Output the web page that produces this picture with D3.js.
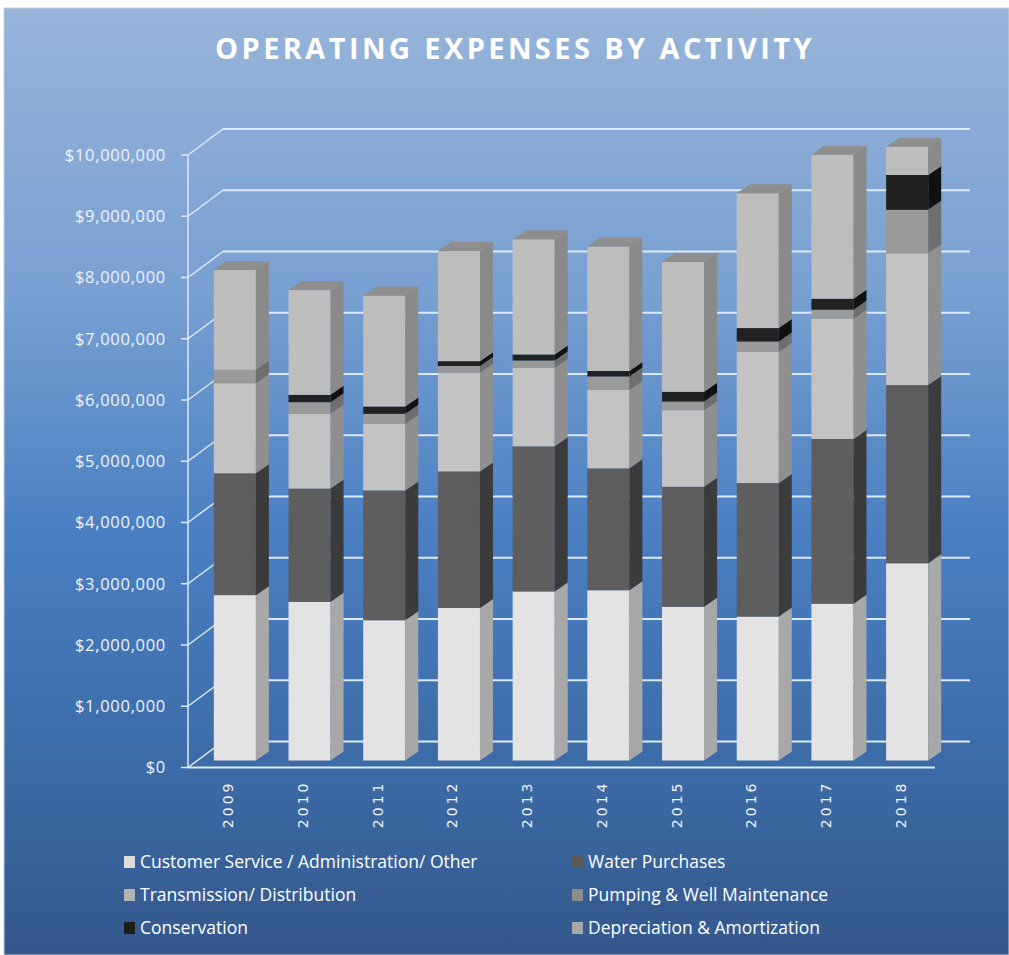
<!DOCTYPE html>
<html>
<head>
<meta charset="utf-8">
<script src="https://cdn.jsdelivr.net/npm/d3@7"></script>
<style>
    body { margin: 0; background: #ffffff; }
    #chart { width: 1009px; height: 955px; }
    .tick-label { fill: #eef3fa; font-family: "Open Sans", sans-serif; font-size: 16.5px; letter-spacing: 0.7px; }
    .x-label { fill: #eef3fa; font-family: "DejaVu Sans", sans-serif; font-size: 14px; letter-spacing: 3px; }
    .legendText { fill: #ffffff; font-family: "Open Sans", sans-serif; font-size: 17.5px; }
</style>
</head>
<body>
<div id="chart"></div>
<script>
// data (dollars)
const years = ["2009", "2010", "2011", "2012", "2013", "2014", "2015", "2016", "2017", "2018"];
const customerService = [2700000, 2590000, 2290000, 2490000, 2760000, 2780000, 2510000, 2350000, 2560000, 3220000];
const waterPurchases  = [1990000, 1850000, 2120000, 2230000, 2370000, 1990000, 1960000, 2180000, 2690000, 2910000];
const transmission    = [1470000, 1220000, 1090000, 1610000, 1280000, 1280000, 1250000, 2140000, 1960000, 2150000];
const pumping         = [220000, 190000, 160000, 110000, 120000, 220000, 140000, 170000, 150000, 710000];
const conservation    = [0, 120000, 120000, 80000, 100000, 90000, 160000, 220000, 180000, 570000];
const depreciation    = [1630000, 1710000, 1810000, 1800000, 1880000, 2030000, 2120000, 2200000, 2350000, 460000];
const yTicks = [0, 1000000, 2000000, 3000000, 4000000, 5000000, 6000000, 7000000, 8000000, 9000000, 10000000];

const seriesKeys = ["Customer Service / Administration/ Other", "Water Purchases", "Transmission/ Distribution",
    "Pumping & Well Maintenance", "Conservation", "Depreciation & Amortization"];
const seriesValues = [customerService, waterPurchases, transmission, pumping, conservation, depreciation];

// front, side colours for each series
const faceColours = ["#e3e3e3", "#5e5e5e", "#c3c3c3", "#9a9a9a", "#222222", "#bdbdbd"];
const sideColours = ["#a8a8a8", "#3b3b3b", "#8f8f8f", "#6e6e6e", "#111111", "#8a8a8a"];
const legendColours = ["#dcdcdc", "#5a5a5a", "#b3b3b3", "#8c8c8c", "#1c1c1c", "#a8a8a8"];

class StackedBar3D {

    constructor(_element, _title) {
        this.element = _element;
        this.title = _title;
        this.init();
    }

    init() {
        let dv = this;

        dv.W = 1009;
        dv.H = 955;

        const svg = d3.select(dv.element)
            .append("svg")
            .attr("width", dv.W)
            .attr("height", dv.H);

        // background gradient
        const grad = svg.append("defs").append("linearGradient")
            .attr("id", "bg")
            .attr("x1", 0).attr("y1", 0).attr("x2", 0).attr("y2", 1);
        grad.append("stop").attr("offset", "0%").attr("stop-color", "#97b4d9");
        grad.append("stop").attr("offset", "30%").attr("stop-color", "#78a0d2");
        grad.append("stop").attr("offset", "55%").attr("stop-color", "#4a80c3");
        grad.append("stop").attr("offset", "80%").attr("stop-color", "#3c6ba7");
        grad.append("stop").attr("offset", "100%").attr("stop-color", "#33588c");

        svg.append("rect")
            .attr("x", 4).attr("y", 8)
            .attr("width", dv.W - 4).attr("height", dv.H - 8)
            .attr("fill", "url(#bg)")
            .attr("stroke", "#c9cfd8")
            .attr("stroke-width", 1);

        svg.append("text")
            .attr("x", 515)
            .attr("y", 59)
            .attr("text-anchor", "middle")
            .attr("fill", "#ffffff")
            .style("font-family", "Open Sans, sans-serif")
            .style("font-weight", "bold")
            .style("font-size", "29px")
            .style("letter-spacing", "3.4px")
            .text(dv.title);

        dv.g = svg.append("g");

        // plot geometry
        dv.left = 188;
        dv.right = 935;
        dv.depth = { dx: 35, dy: -26 };   // wall depth
        dv.barOff = { dx: 9.5, dy: -7 };  // front of the bars
        dv.barDepth = { dx: 13, dy: -9 }; // bar thickness

        dv.x = d3.scaleBand()
            .domain(years)
            .range([dv.left, dv.right])
            .paddingInner(0.437)
            .paddingOuter(0.2185);

        dv.y = d3.scaleLinear()
            .domain([0, 10000000])
            .range([767.5, 155]);

        dv.data = years.map((yr, i) => {
            let row = { year: yr };
            seriesKeys.forEach((k, j) => { row[k] = seriesValues[j][i]; });
            return row;
        });

        dv.drawWalls();
        dv.update();
        dv.addLegend();
    }

    drawWalls() {
        let dv = this;
        const gridColour = "#dde9f7";
        const walls = dv.g.append("g").attr("class", "walls");

        // back wall gridlines
        walls.selectAll(".grid")
            .data(yTicks)
            .enter().append("line")
            .attr("class", "grid")
            .attr("x1", dv.left + dv.depth.dx)
            .attr("x2", dv.right + dv.depth.dx)
            .attr("y1", d => dv.y(d) + dv.depth.dy)
            .attr("y2", d => dv.y(d) + dv.depth.dy)
            .attr("stroke", gridColour)
            .attr("stroke-width", 2);

        // side wall diagonals
        walls.selectAll(".diag")
            .data(yTicks)
            .enter().append("line")
            .attr("class", "diag")
            .attr("x1", dv.left)
            .attr("x2", dv.left + dv.depth.dx)
            .attr("y1", d => dv.y(d))
            .attr("y2", d => dv.y(d) + dv.depth.dy)
            .attr("stroke", gridColour)
            .attr("stroke-width", 1.5);

        // vertical axis line and ticks
        walls.append("line")
            .attr("x1", dv.left).attr("x2", dv.left)
            .attr("y1", dv.y(10000000)).attr("y2", dv.y(0))
            .attr("stroke", gridColour)
            .attr("stroke-width", 1.5);

        walls.selectAll(".ytick")
            .data(yTicks)
            .enter().append("line")
            .attr("x1", dv.left - 7).attr("x2", dv.left)
            .attr("y1", d => dv.y(d)).attr("y2", d => dv.y(d))
            .attr("stroke", gridColour)
            .attr("stroke-width", 1.5);

        walls.selectAll(".tick-label")
            .data(yTicks)
            .enter().append("text")
            .attr("class", "tick-label")
            .attr("x", dv.left - 22)
            .attr("y", d => dv.y(d))
            .attr("dy", "0.35em")
            .attr("text-anchor", "end")
            .text(d => d3.format("$,")(d));

        // floor front edge
        walls.append("line")
            .attr("x1", dv.left).attr("x2", dv.right)
            .attr("y1", dv.y(0)).attr("y2", dv.y(0))
            .attr("stroke", gridColour)
            .attr("stroke-width", 2);

        // category labels
        walls.selectAll(".x-label")
            .data(years)
            .enter().append("text")
            .attr("class", "x-label")
            .attr("transform", d => "translate(" + (dv.x(d) + dv.x.bandwidth() / 2 + 8) + "," + (dv.y(0) + 13) + ") rotate(-90)")
            .attr("text-anchor", "end")
            .text(d => d);
    }

    update() {
        let dv = this;

        const stack = d3.stack().keys(seriesKeys);
        const layers = stack(dv.data);
        const w = dv.x.bandwidth();
        const bd = dv.barDepth;

        const bars = dv.g.append("g")
            .attr("transform", "translate(" + dv.barOff.dx + "," + dv.barOff.dy + ")");

        // draw each year bottom-up
        dv.data.forEach((row, i) => {
            const gx = bars.append("g").attr("class", "bar");
            const x0 = dv.x(row.year);

            layers.forEach((layer, j) => {
                const seg = layer[i];
                const yTop = dv.y(seg[1]);
                const yBot = dv.y(seg[0]);
                if (yBot - yTop <= 0) return;

                // front face
                gx.append("rect")
                    .attr("x", x0)
                    .attr("y", yTop)
                    .attr("width", w)
                    .attr("height", yBot - yTop)
                    .attr("fill", faceColours[j]);

                // side face
                gx.append("path")
                    .attr("d", "M" + (x0 + w) + "," + yBot +
                        "L" + (x0 + w + bd.dx) + "," + (yBot + bd.dy) +
                        "L" + (x0 + w + bd.dx) + "," + (yTop + bd.dy) +
                        "L" + (x0 + w) + "," + yTop + "Z")
                    .attr("fill", sideColours[j]);
            });

            // lid on the top segment
            const top = dv.y(layers[layers.length - 1][i][1]);
            gx.append("path")
                .attr("d", "M" + x0 + "," + top +
                    "L" + (x0 + w) + "," + top +
                    "L" + (x0 + w + bd.dx) + "," + (top + bd.dy) +
                    "L" + (x0 + bd.dx) + "," + (top + bd.dy) + "Z")
                .attr("fill", "#8e8e8e");
        });
    }

    addLegend() {
        let dv = this;

        let legendArray = seriesKeys.map((k, i) => ({ label: k, colour: legendColours[i] }));

        let legends = dv.g.append("g").selectAll(".legend")
            .data(legendArray)
            .enter()
            .append("g")
            .attr("class", "legend")
            .attr("transform", (d, i) => {
                return "translate(" + (i % 2 === 0 ? 124 : 572) + "," + (862 + Math.floor(i / 2) * 33) + ")";
            });

        legends.append("rect")
            .attr("x", 0)
            .attr("y", -6)
            .attr("width", 11)
            .attr("height", 12)
            .attr("fill", d => d.colour);

        legends.append("text")
            .attr("class", "legendText")
            .attr("x", 16)
            .attr("y", 0)
            .attr("dy", ".35em")
            .text(d => d.label);
    }
}

new StackedBar3D("#chart", "OPERATING EXPENSES BY ACTIVITY");
</script>
</body>
</html>
